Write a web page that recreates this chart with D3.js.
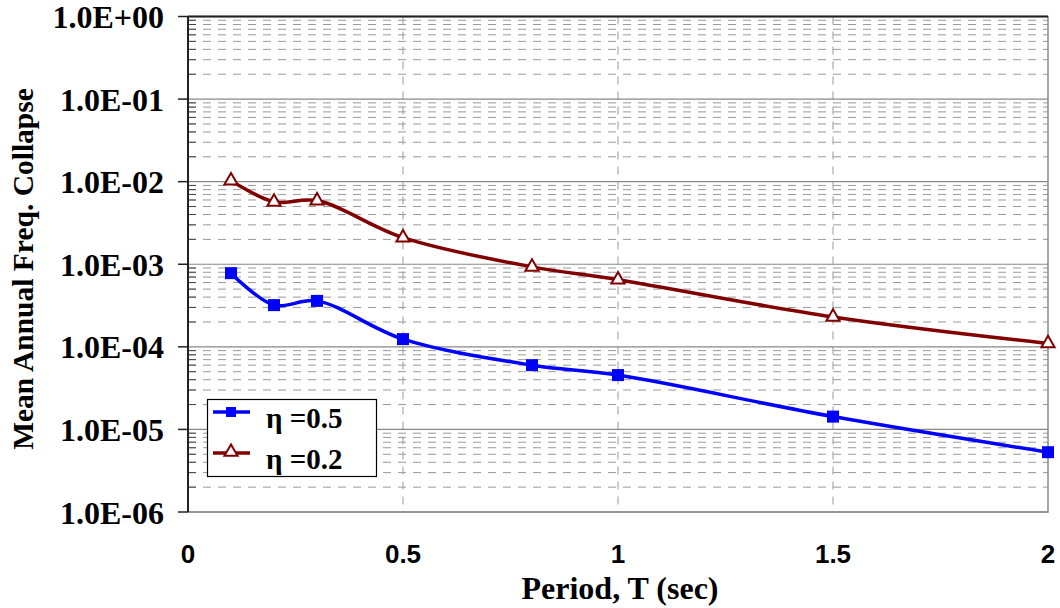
<!doctype html>
<html>
<head>
<script src="https://d3js.org/d3.v7.min.js"></script>
</head>
<body style="margin:0; background:white;">
<svg id="chart" width="1060" height="608"></svg>
<script>
// data
var periods = [0.1, 0.2, 0.3, 0.5, 0.8, 1.0, 1.5, 2.0];
var eta05 = [7.8e-4, 3.2e-4, 3.6e-4, 1.24e-4, 6.0e-5, 4.55e-5, 1.43e-5, 5.3e-6];
var eta02 = [1.03e-2, 5.7e-3, 5.9e-3, 2.1e-3, 9.3e-4, 6.5e-4, 2.3e-4, 1.1e-4];
var xTicks = [0, 0.5, 1, 1.5, 2];
var yTicks = [1e-6, 1e-5, 1e-4, 1e-3, 1e-2, 1e-1, 1];
var yLabels = ["1.0E-06", "1.0E-05", "1.0E-04", "1.0E-03", "1.0E-02", "1.0E-01", "1.0E+00"];

var svg = d3.select("#chart");
var pLeft = 188, pRight = 1048, pTop = 16.5, pBottom = 512;

var x = d3.scaleLinear().domain([0, 2]).range([pLeft, pRight]);
var y = d3.scaleLog().domain([1e-6, 1]).range([pBottom, pTop]);

// minor grid (2..9 in each decade)
var minors = [];
for (var e = -6; e < 0; e++) {
  for (var m = 2; m <= 9; m++) minors.push(m * Math.pow(10, e));
}
svg.append("g").selectAll("line").data(minors).enter().append("line")
  .attr("x1", pLeft).attr("x2", pRight)
  .attr("y1", d => y(d)).attr("y2", d => y(d))
  .attr("stroke", "#999").attr("stroke-width", 1)
  .attr("stroke-dasharray", "8,7");

// vertical dashed grid
svg.append("g").selectAll("line").data([0.5, 1, 1.5]).enter().append("line")
  .attr("x1", d => x(d)).attr("x2", d => x(d))
  .attr("y1", pTop).attr("y2", pBottom)
  .attr("stroke", "#999").attr("stroke-width", 1)
  .attr("stroke-dasharray", "8,7");

// major grid
svg.append("g").selectAll("line").data(yTicks).enter().append("line")
  .attr("x1", pLeft).attr("x2", pRight)
  .attr("y1", d => y(d)).attr("y2", d => y(d))
  .attr("stroke", "#888").attr("stroke-width", 1.2);

// plot border
svg.append("rect")
  .attr("x", pLeft).attr("y", pTop)
  .attr("width", pRight - pLeft).attr("height", pBottom - pTop)
  .attr("fill", "none").attr("stroke", "#888").attr("stroke-width", 1.5);
svg.append("line").attr("x1", pLeft).attr("x2", pRight)
  .attr("y1", pTop).attr("y2", pTop)
  .attr("stroke", "#222").attr("stroke-width", 2);

// y axis: major ticks outside, minor ticks inside
svg.append("g").selectAll("line").data(yTicks).enter().append("line")
  .attr("x1", pLeft - 10).attr("x2", pLeft)
  .attr("y1", d => y(d)).attr("y2", d => y(d))
  .attr("stroke", "#222").attr("stroke-width", 1.5);
svg.append("g").selectAll("line").data(minors).enter().append("line")
  .attr("x1", pLeft).attr("x2", pLeft + 8)
  .attr("y1", d => y(d)).attr("y2", d => y(d))
  .attr("stroke", "#444").attr("stroke-width", 1);
svg.append("line").attr("x1", pLeft).attr("x2", pLeft)
  .attr("y1", pTop).attr("y2", pBottom)
  .attr("stroke", "#222").attr("stroke-width", 2);

// y tick labels
svg.append("g").selectAll("text").data(yTicks).enter().append("text")
  .attr("x", 164).attr("y", d => y(d) + 11.5)
  .attr("text-anchor", "end")
  .style("font-family", "'Liberation Serif', 'Times New Roman', serif")
  .style("font-weight", "bold").style("font-size", "32px")
  .text((d, i) => yLabels[i]);

// x tick labels
svg.append("g").selectAll("text").data(xTicks).enter().append("text")
  .attr("x", d => x(d)).attr("y", 563)
  .attr("text-anchor", "middle")
  .style("font-family", "'Liberation Sans', Arial, sans-serif")
  .style("font-weight", "bold").style("font-size", "26px")
  .text(d => d);

// axis titles
svg.append("text")
  .attr("x", (pLeft + pRight) / 2 + 2).attr("y", 599)
  .attr("text-anchor", "middle")
  .style("font-family", "'Liberation Serif', 'Times New Roman', serif")
  .style("font-weight", "bold").style("font-size", "32px")
  .text("Period, T (sec)");
svg.append("text")
  .attr("transform", "translate(33," + 269 + ") rotate(-90)")
  .attr("text-anchor", "middle")
  .style("font-family", "'Liberation Serif', 'Times New Roman', serif")
  .style("font-weight", "bold").style("font-size", "29.5px")
  .text("Mean Annual Freq. Collapse");

// series
var line = d3.line()
  .x(d => x(d[0])).y(d => y(d[1]))
  .curve(d3.curveCatmullRom.alpha(0.5));

var blue = periods.map((p, i) => [p, eta05[i]]);
var red = periods.map((p, i) => [p, eta02[i]]);

svg.append("path").datum(red).attr("d", line)
  .attr("fill", "none").attr("stroke", "#800000").attr("stroke-width", 3.5);
svg.append("path").datum(blue).attr("d", line)
  .attr("fill", "none").attr("stroke", "#0000ff").attr("stroke-width", 3.5);

var tri = d3.symbol().type(d3.symbolTriangle).size(75);
svg.append("g").selectAll("path").data(red).enter().append("path")
  .attr("d", tri)
  .attr("transform", d => "translate(" + x(d[0]) + "," + y(d[1]) + ")")
  .attr("fill", "white").attr("stroke", "#800000").attr("stroke-width", 2);

svg.append("g").selectAll("rect").data(blue).enter().append("rect")
  .attr("x", d => x(d[0]) - 6).attr("y", d => y(d[1]) - 6)
  .attr("width", 12).attr("height", 12)
  .attr("fill", "#0000ff");

// legend
var lg = svg.append("g");
lg.append("rect").attr("x", 207.5).attr("y", 399.5)
  .attr("width", 169).attr("height", 77)
  .attr("fill", "white").attr("stroke", "black").attr("stroke-width", 1.2);
var items = [
  {label: "\u03b7 =0.5", color: "#0000ff", mark: "square", yy: 412},
  {label: "\u03b7 =0.2", color: "#800000", mark: "tri", yy: 453}
];
items.forEach(function(it) {
  lg.append("line").attr("x1", 213).attr("x2", 250)
    .attr("y1", it.yy).attr("y2", it.yy)
    .attr("stroke", it.color).attr("stroke-width", 3.5);
  if (it.mark === "square") {
    lg.append("rect").attr("x", 226).attr("y", it.yy - 5)
      .attr("width", 10).attr("height", 10).attr("fill", it.color);
  } else {
    lg.append("path").attr("d", tri)
      .attr("transform", "translate(231," + (it.yy - 1) + ")")
      .attr("fill", "white").attr("stroke", it.color).attr("stroke-width", 2);
  }
  lg.append("text").attr("x", 266).attr("y", it.yy + 16)
    .style("font-family", "'Liberation Serif', 'Times New Roman', serif")
    .style("font-weight", "bold").style("font-size", "29px")
    .text(it.label);
});
</script>
</body>
</html>
